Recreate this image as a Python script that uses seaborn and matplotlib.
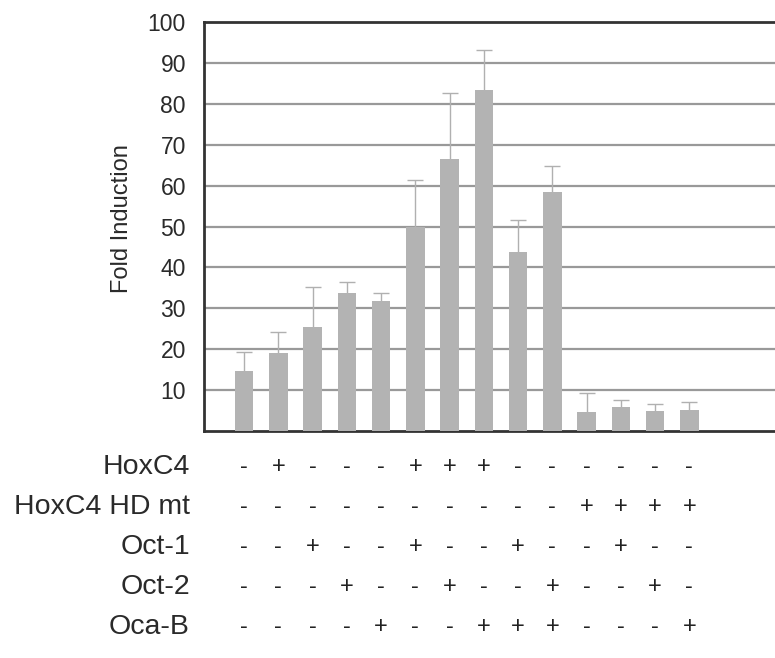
import numpy as np
import pandas as pd
import matplotlib
matplotlib.use('Agg')
import matplotlib.pyplot as plt
import matplotlib.transforms as mtransforms
import seaborn as sns

# bar values and upper error
fold_induction = [14.7, 19.1, 25.5, 33.7, 31.8, 50.0, 66.4, 83.4, 43.7, 58.5, 4.6, 5.8, 5.0, 5.1]
error_upper = [4.7, 5.2, 9.6, 2.8, 2.0, 11.4, 16.3, 9.8, 7.8, 6.3, 4.8, 1.8, 1.6, 1.9]

row_labels = ['HoxC4', 'HoxC4 HD mt', 'Oct-1', 'Oct-2', 'Oca-B']
hoxc4 =      ['-', '+', '-', '-', '-', '+', '+', '+', '-', '-', '-', '-', '-', '-']
hoxc4_hdmt = ['-', '-', '-', '-', '-', '-', '-', '-', '-', '-', '+', '+', '+', '+']
oct1 =       ['-', '-', '+', '-', '-', '+', '-', '-', '+', '-', '-', '+', '-', '-']
oct2 =       ['-', '-', '-', '+', '-', '-', '+', '-', '-', '+', '-', '-', '+', '-']
ocab =       ['-', '-', '-', '-', '+', '-', '-', '+', '+', '+', '-', '-', '-', '+']
table_rows = [hoxc4, hoxc4_hdmt, oct1, oct2, ocab]

yticks = [10, 20, 30, 40, 50, 60, 70, 80, 90, 100]

sns.set_style('white')
plt.rcParams['font.family'] = ['Liberation Sans', 'DejaVu Sans']

df = pd.DataFrame({'cond': [f'c{i}' for i in range(len(fold_induction))],
                   'fold': fold_induction})

fig = plt.figure(figsize=(7.75, 6.58), dpi=100)
ax = fig.add_axes([204 / 775, 1 - 431 / 658, 1 - 204 / 775, (431 - 22) / 658])

x = np.arange(len(fold_induction))
eb = ax.errorbar(x, fold_induction, yerr=[np.zeros(len(x)), error_upper], fmt='none',
                 ecolor='#b0b0b0', elinewidth=1.0, capsize=6, capthick=1.0, zorder=2)
# only keep the upper caps
eb[1][0].set_visible(False)
sns.barplot(data=df, x='cond', y='fold', color='#b3b3b3', saturation=1,
            width=0.54, linewidth=0, ax=ax, zorder=3)

ax.set_xlim(-1.17, 15.5)
ax.set_ylim(0, 100)
ax.set_yticks(yticks)
ax.set_yticklabels([str(v) for v in yticks], fontsize=16.5, color='#2a2a2a')
ax.set_xticks([])
ax.set_xlabel('')
ax.tick_params(axis='y', length=0, pad=13)
ax.set_ylabel('Fold Induction', fontsize=17, color='#2a2a2a')
ax.yaxis.set_label_coords(-0.125, 0.52)

for v in yticks[:-1]:
    ax.axhline(v, color='#999999', lw=1.6, zorder=1)

for side in ['left', 'top', 'bottom']:
    ax.spines[side].set_color('#333333')
    ax.spines[side].set_linewidth(2)
ax.spines['right'].set_visible(False)

trans = mtransforms.blended_transform_factory(ax.transData, fig.transFigure)
row_y = [467, 507, 547, 587, 627]
for label, signs, ypx in zip(row_labels, table_rows, row_y):
    yf = 1 - ypx / 658
    fig.text(190 / 775, yf, label, ha='right', va='center', fontsize=20.5, color='#2a2a2a')
    for xi, s in zip(x, signs):
        ax.text(xi, yf, s, transform=trans, ha='center', va='center',
                fontsize=17, color='#222222')

fig.savefig('out.png', dpi=100, facecolor='white')
